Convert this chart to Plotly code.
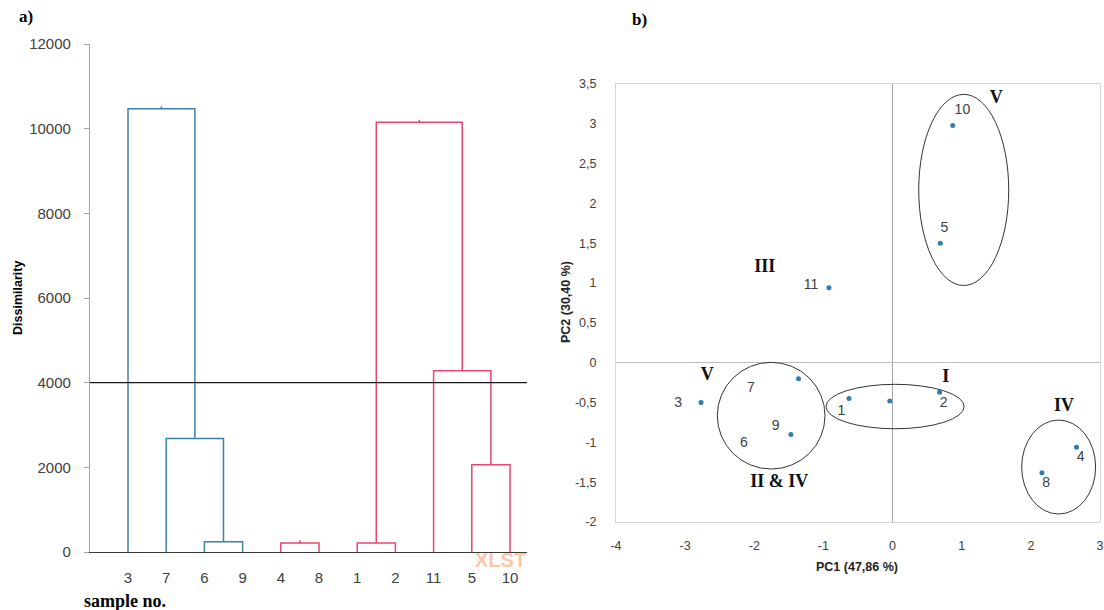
import plotly.graph_objects as go

W, H = 1104, 610
OFF = 0

# ---------------- panel a) : dendrogram ----------------
leaf_labels = ["3", "7", "6", "9", "4", "8", "1", "2", "11", "5", "10"]
merge_left = ["6", "7", "3", "4", "1", "5", "11", "m4"]
merge_right = ["9", "m0", "m1", "8", "2", "10", "m5", "m6"]
merge_height = [240, 2680, 10470, 215, 215, 2060, 4280, 10150]
merge_group = ["blue", "blue", "blue", "red", "red", "red", "red", "red"]
cut_level = 4000
a_tick_vals = [0, 2000, 4000, 6000, 8000, 10000, 12000]
a_tick_text = ["0", "2000", "4000", "6000", "8000", "10000", "12000"]

# ---------------- panel b) : PCA ----------------
sample_ids = ["1", "2", "3", "4", "5", "6", "7", "8", "9", "10", "11"]
pc1 = [-0.63, 0.68, -2.77, 2.66, 0.69, -0.04, -1.36, 2.16, -1.47, 0.87, -0.92]
pc2 = [-0.45, -0.37, -0.50, -1.06, 1.50, -0.48, -0.20, -1.38, -0.90, 2.98, 0.94]
label_pc1 = [-0.74, 0.74, -3.10, 2.72, 0.75, -2.15, -2.05, 2.22, -1.69, 1.01, -1.18]
label_pc2 = [-0.61, -0.51, -0.51, -1.19, 1.69, -1.02, -0.32, -1.52, -0.80, 3.17, 0.97]
group_names = ["V", "III", "V", "II &amp; IV", "I", "IV"]
group_pc1 = [1.50, -1.85, -2.68, -1.64, 0.77, 2.48]
group_pc2 = [3.32, 1.20, -0.155, -1.50, -0.18, -0.55]
ellipse_x0 = [0.378, -2.535, -0.963, 1.867]
ellipse_x1 = [1.68, -0.977, 1.035, 2.937]
ellipse_y0 = [0.97, -1.335, -0.829, -1.90]
ellipse_y1 = [3.37, 0.005, -0.271, -0.72]
b_x_ticks = [-4, -3, -2, -1, 0, 1, 2, 3]
b_x_text = ["-4", "-3", "-2", "-1", "0", "1", "2", "3"]
b_y_ticks = [-2, -1.5, -1, -0.5, 0, 0.5, 1, 1.5, 2, 2.5, 3, 3.5]
b_y_text = ["-2", "-1,5", "-1", "-0,5", "0", "0,5", "1", "1,5", "2", "2,5", "3", "3,5"]

COLORS = {"blue": "#3f80a8", "red": "#e8466c"}
TICKC = "#404040"


def px(x):
    return (x - OFF) / W


def py(y):
    return 1 - (y - OFF) / H


# build dendrogram segments
pos = {l: i for i, l in enumerate(leaf_labels)}
hgt = {l: 0 for l in leaf_labels}
segs = {"blue": ([], []), "red": ([], [])}
referenced = set(merge_left) | set(merge_right)
for k, (a, b, h, g) in enumerate(zip(merge_left, merge_right, merge_height, merge_group)):
    xs, ys = segs[g]
    xs += [pos[a], pos[a], pos[b], pos[b], None]
    ys += [hgt[a], h, h, hgt[b], None]
    mid = (pos[a] + pos[b]) / 2
    pos[f"m{k}"] = mid
    hgt[f"m{k}"] = h
    if f"m{k}" not in referenced:
        xs += [mid, mid, None]
        ys += [h, h + 60, None]

fig = go.Figure()
for g, (xs, ys) in segs.items():
    fig.add_trace(go.Scatter(x=xs, y=ys, mode="lines", line=dict(color=COLORS[g], width=1.5),
                             xaxis="x", yaxis="y", showlegend=False, hoverinfo="skip"))

# PCA points
fig.add_trace(go.Scatter(x=pc1, y=pc2, mode="markers", marker=dict(color="#2e7fae", size=5),
                         xaxis="x2", yaxis="y2", showlegend=False))
fig.add_trace(go.Scatter(x=label_pc1, y=label_pc2, mode="text", text=sample_ids,
                         textfont=dict(family="Liberation Sans", size=14, color=TICKC),
                         xaxis="x2", yaxis="y2", showlegend=False, hoverinfo="skip"))
fig.add_trace(go.Scatter(x=group_pc1, y=group_pc2, mode="text",
                         text=[f"<b>{t}</b>" for t in group_names],
                         textfont=dict(family="Liberation Serif", size=18, color="#111111"),
                         xaxis="x2", yaxis="y2", showlegend=False, hoverinfo="skip"))

xa_dom = [px(90), px(527)]
ya_dom = [py(552), py(44)]
xb_dom = [px(616), px(1100)]
yb_dom = [py(522), py(84)]
xb_range = [-4, 3]
zero_pos = xb_dom[0] + (0 - xb_range[0]) / (xb_range[1] - xb_range[0]) * (xb_dom[1] - xb_dom[0])

tickfont_a = dict(family="Liberation Sans", size=15, color=TICKC)
tickfont_b = dict(family="Liberation Sans", size=12.5, color=TICKC)

fig.update_layout(
    width=W, height=H, margin=dict(l=0, r=0, t=0, b=0, autoexpand=False),
    paper_bgcolor="white", plot_bgcolor="white", showlegend=False,
    xaxis=dict(domain=xa_dom, range=[-0.995, 10.445], anchor="y",
               tickvals=list(range(len(leaf_labels))), ticktext=leaf_labels,
               showline=True, linecolor="#3a3a3a", linewidth=1.2, ticks="",
               ticklabelstandoff=12, showgrid=False, zeroline=False, tickfont=tickfont_a,
               automargin=False, ticklabeloverflow="allow"),
    yaxis=dict(domain=ya_dom, range=[0, 12000], anchor="x",
               tickvals=a_tick_vals, ticktext=a_tick_text, ticks="outside", ticklen=5,
               tickcolor="#a6a6a6", showline=True, linecolor="#a6a6a6", linewidth=1.2,
               ticklabelstandoff=10, showgrid=False, zeroline=False, tickfont=tickfont_a,
               automargin=False, ticklabeloverflow="allow"),
    yaxis3=dict(overlaying="y", anchor="x", range=[0, 12000], tickvals=a_tick_vals,
                ticks="inside", ticklen=5, tickcolor="#a6a6a6", showticklabels=False,
                showline=False, showgrid=False, zeroline=False),
    xaxis2=dict(domain=xb_dom, range=xb_range, anchor="y2", tickvals=b_x_ticks, ticktext=b_x_text,
                showline=True, mirror=True, linecolor="#d6d6d6", linewidth=1,
                zeroline=True, zerolinecolor="#a6a6a6", zerolinewidth=1.2,
                ticks="", ticklabelstandoff=12, showgrid=False, tickfont=tickfont_b,
                automargin=False, ticklabeloverflow="allow"),
    yaxis2=dict(domain=yb_dom, range=[-2, 3.5], anchor="x2", tickvals=b_y_ticks, ticktext=b_y_text,
                showline=True, mirror=True, linecolor="#d6d6d6", linewidth=1,
                zeroline=True, zerolinecolor="#bdbdbd", zerolinewidth=1.2,
                ticks="", ticklabelstandoff=16, showgrid=False, tickfont=tickfont_b,
                automargin=False, ticklabeloverflow="allow"),
    yaxis4=dict(overlaying="y2", anchor="free", position=zero_pos, range=[-2, 3.5],
                tickvals=b_y_ticks, ticks="outside", ticklen=6, tickcolor="#a6a6a6",
                showticklabels=False, showline=False, showgrid=False, zeroline=False),
    yaxis5=dict(overlaying="y2", anchor="free", position=zero_pos, range=[-2, 3.5],
                tickvals=b_y_ticks, ticks="inside", ticklen=6, tickcolor="#a6a6a6",
                showticklabels=False, showline=False, showgrid=False, zeroline=False),
)

shapes = [dict(type="line", xref="x domain", yref="y", x0=0, x1=1, y0=cut_level, y1=cut_level,
               line=dict(color="#1a1a1a", width=1.2))]
for x0, x1, y0, y1 in zip(ellipse_x0, ellipse_x1, ellipse_y0, ellipse_y1):
    shapes.append(dict(type="circle", xref="x2", yref="y2", x0=x0, x1=x1, y0=y0, y1=y1,
                       line=dict(color="#333333", width=1)))
fig.update_layout(shapes=shapes)

ann = [
    dict(text="<b>a)</b>", x=px(26), y=py(17), font=dict(family="Liberation Serif", size=17, color="black")),
    dict(text="<b>b)</b>", x=px(639), y=py(19), font=dict(family="Liberation Serif", size=17, color="black")),
    dict(text="<b>sample no.</b>", x=px(125), y=py(601), font=dict(family="Liberation Serif", size=18, color="black")),
    dict(text="<b>Dissimilarity</b>", x=px(18), y=py(298), textangle=-90,
         font=dict(family="Liberation Sans", size=12.5, color="black")),
    dict(text="<b>PC1 (47,86 %)</b>", x=px(857), y=py(567),
         font=dict(family="Liberation Sans", size=12.5, color="#222222")),
    dict(text="<b>PC2 (30,40 %)</b>", x=px(566), y=py(302), textangle=-90,
         font=dict(family="Liberation Sans", size=12.5, color="#222222")),
    dict(text="<b>XLST</b>", x=px(473), y=py(560), xanchor="left",
         font=dict(family="Liberation Sans", size=20, color="#fcc7a6")),
]
for a in ann:
    a.setdefault("xanchor", "center")
    a.update(xref="paper", yref="paper", yanchor="middle", showarrow=False)
fig.update_layout(annotations=ann)

fig.write_html("out.html", config={"displayModeBar": False},
               post_script="document.body.style.margin='0';document.body.style.overflow='hidden';")
